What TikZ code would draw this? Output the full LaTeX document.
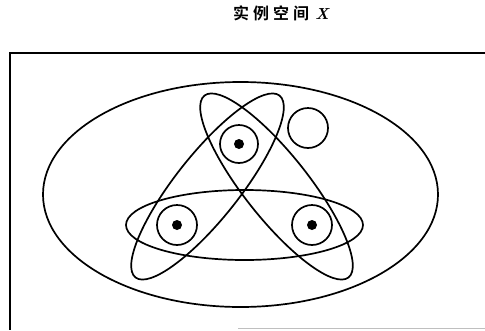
\documentclass[tikz,border=0pt]{standalone}
\usepackage{fontspec}
\newfontfamily\cjk{Noto Sans CJK SC}[BoldFont={Noto Sans CJK SC Bold}]
\begin{document}
\begin{tikzpicture}[x=1pt,y=-1pt,
  ln/.style={line width=1.7pt, draw=black},
  ring/.style={ln, circle, minimum size=38pt, inner sep=0pt},
  dot/.style={fill=black, circle, minimum size=10pt, inner sep=0pt}]
\useasboundingbox (0,0) rectangle (485,330);
% title
\node (title) at (281,13) {\cjk\bfseries\fontsize{16pt}{16pt}\selectfont 实\hspace{4pt}例\hspace{4pt}空\hspace{4pt}间\hspace{6pt}{\rmfamily\bfseries\itshape X}};
% frame
\coordinate (tl) at (10,53);
\coordinate (tr) at (485,53);
\coordinate (bl) at (10,330);
\coordinate (bm) at (238,328.5);
\coordinate (br) at (485,328.5);
\draw[line width=1.7pt] (tr) -- (tl) -- (bl);
\draw[line width=0.8pt, black!25] (bm) -- (br);
% big ellipse
\draw[ln] (240.5,194.5) ellipse [x radius=197.5, y radius=112.5];
% horizontal ellipse
\draw[ln] (244.5,225) ellipse [x radius=118.5, y radius=35];
% tilted ellipses
\draw[ln] (276.5,186.5) ellipse [x radius=116, y radius=32, rotate=-51.6];
\draw[ln] (207.5,186.5) ellipse [x radius=116, y radius=32, rotate=51.6];
% rings and dots
\node[ring] (ct) at (239,144) {};
\node[ring, minimum size=40pt] (cl) at (177,225) {};
\node[ring, minimum size=40pt] (cr) at (312,225) {};
\node[dot] (dt) at (ct) {};
\node[dot] (dl) at (cl) {};
\node[dot] (dr) at (cr) {};
% isolated circle
\node[ring, minimum size=40pt] (iso) at (308,128) {};
\end{tikzpicture}
\end{document}
